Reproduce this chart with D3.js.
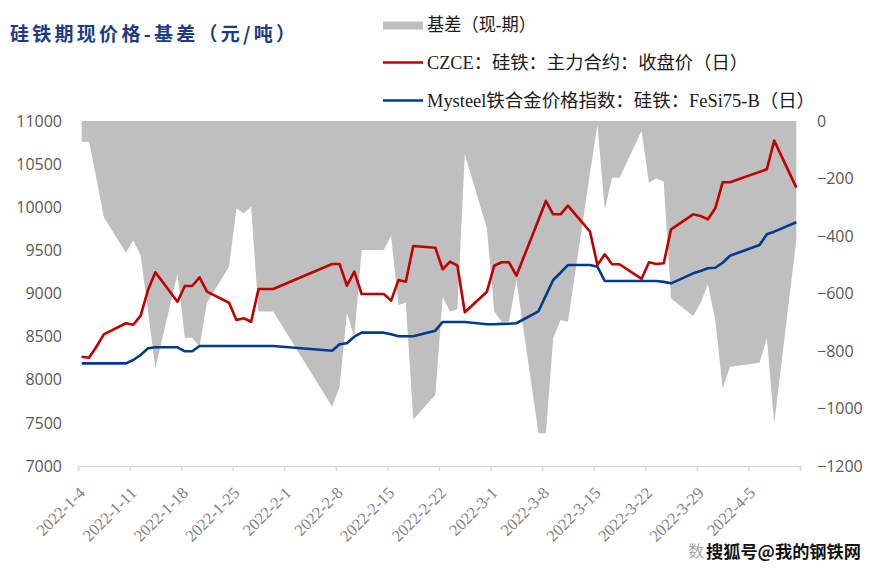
<!DOCTYPE html>
<html>
<head>
<meta charset="utf-8">
<script src="https://cdn.jsdelivr.net/npm/d3@7"></script>
<style>
html,body{margin:0;padding:0;background:#fff;}
svg{display:block;}
</style>
</head>
<body>
<svg id="chart" width="881" height="571"></svg>
<script>
const dates = [
 "2022-01-04","2022-01-05","2022-01-06","2022-01-07","2022-01-10","2022-01-11","2022-01-12","2022-01-13","2022-01-14",
 "2022-01-17","2022-01-18","2022-01-19","2022-01-20","2022-01-21","2022-01-24","2022-01-25","2022-01-26","2022-01-27",
 "2022-01-28","2022-01-29","2022-01-30",
 "2022-02-07","2022-02-08","2022-02-09","2022-02-10","2022-02-11","2022-02-14","2022-02-15","2022-02-16","2022-02-17",
 "2022-02-18","2022-02-21","2022-02-22","2022-02-23","2022-02-24","2022-02-25","2022-02-28",
 "2022-03-01","2022-03-02","2022-03-03","2022-03-04","2022-03-07","2022-03-08","2022-03-09","2022-03-10","2022-03-11",
 "2022-03-14","2022-03-15","2022-03-16","2022-03-17","2022-03-18","2022-03-21","2022-03-22","2022-03-23","2022-03-24",
 "2022-03-25","2022-03-28","2022-03-29","2022-03-30","2022-03-31",
 "2022-04-01","2022-04-02","2022-04-06","2022-04-07","2022-04-08","2022-04-11"
];
const czce = [
 8267,8256,8383,8527,8655,8638,8743,9040,9246,
 8905,9087,9087,9188,9021,8893,8693,8713,8673,
 9052,9052,9052,
 9342,9342,9091,9253,8994,8994,8917,9157,9137,
 9551,9531,9281,9369,9322,8782,9021,
 9322,9362,9362,9206,9852,10073,9918,9918,10018,
 9717,9330,9455,9339,9339,9170,9362,9342,9350,
 9744,9918,9899,9860,9988,
 10289,10289,10410,10440,10772,10227
];
const mysteel = [
 8190,8190,8190,8190,8190,8229,8287,8365,8376,
 8376,8330,8330,8391,8391,8391,8391,8391,8391,
 8391,8391,8391,
 8337,8411,8423,8499,8546,8546,8527,8504,8504,
 8504,8569,8670,8670,8670,8670,8643,
 8643,8648,8650,8655,8794,8975,9157,9241,9330,
 9330,9311,9145,9145,9145,9145,9145,9145,9135,
 9118,9234,9261,9292,9299,
 9357,9438,9562,9686,9717,9826
];
const basis = [
 -72,-72,-200,-335,-458,-416,-468,-660,-860,
 -532,-754,-754,-785,-632,-507,-304,-321,-298,
 -663,-663,-663,
 -994,-924,-669,-750,-449,-449,-400,-640,-632,
 -1038,-953,-613,-663,-655,-116,-373,
 -663,-698,-698,-553,-1086,-1086,-756,-692,-698,
 -180,-14,-307,-197,-197,-34,-215,-199,-211,
 -617,-678,-634,-568,-692,
 -930,-855,-841,-756,-1051,-414
];
const xTickLabels = ["2022-1-4","2022-1-11","2022-1-18","2022-1-25","2022-2-1","2022-2-8","2022-2-15",
 "2022-2-22","2022-3-1","2022-3-8","2022-3-15","2022-3-22","2022-3-29","2022-4-5",""];
const leftTicks = [7000,7500,8000,8500,9000,9500,10000,10500,11000];
const rightTicks = [-1200,-1000,-800,-600,-400,-200,0];
const title = "硅铁期现价格-基差（元/吨）";
const legendLabels = ["基差（现-期）","CZCE：硅铁：主力合约：收盘价（日）","Mysteel铁合金价格指数：硅铁：FeSi75-B（日）"];

const parse = d3.utcParse("%Y-%m-%d");
const DAY = 86400000;
const data = dates.map((d,i)=>({t: new Date(parse(d).getTime()+DAY/2), c: czce[i], m: mysteel[i], b: basis[i]}));

const L=78, R=800, T=121, B=466;
const x = d3.scaleUtc().domain([parse("2022-01-04"), parse("2022-04-12")]).range([L,R]);
const yL = d3.scaleLinear().domain([7000,11000]).range([B,T]);
const yR = d3.scaleLinear().domain([-1200,0]).range([B,T]);

const svg = d3.select("#chart");
const serif = "'Liberation Serif','Noto Sans CJK SC',serif";

// area
svg.append("path").datum(data)
  .attr("fill","#BFBFBF")
  .attr("d", d3.area().x(d=>x(d.t)).y0(yR(0)).y1(d=>yR(d.b)));

// x axis
const tickDates = d3.range(0,15).map(i=>new Date(parse("2022-01-04").getTime()+i*7*DAY));
const xAxis = d3.axisBottom(x).tickValues(tickDates).tickSize(5).tickFormat("");
const gx = svg.append("g").attr("transform",`translate(0,${B})`).call(xAxis);
gx.select(".domain").attr("stroke","#D9D9D9").attr("stroke-width",1.5);
gx.selectAll(".tick line").attr("stroke","#D9D9D9").attr("stroke-width",1.5);
svg.append("g").selectAll("text").data(tickDates).join("text")
  .attr("transform",(d)=>`translate(${x(d)+8},${B+28}) rotate(-45)`)
  .attr("text-anchor","end")
  .attr("font-family",serif).attr("font-size",16.5).attr("fill","#7F7F7F")
  .text((d,i)=>xTickLabels[i]);

// left axis
const yAxisL = d3.axisLeft(yL).tickValues(leftTicks).tickSize(0).tickPadding(0).tickFormat(d3.format("d"));
const gl = svg.append("g").attr("transform",`translate(${L-16},0)`).call(yAxisL);
gl.select(".domain").remove();
gl.selectAll("text").attr("font-family","'Open Sans',sans-serif").attr("font-size",16).attr("fill","#595959");

// right axis
const yAxisR = d3.axisRight(yR).tickValues(rightTicks).tickSize(0).tickPadding(0).tickFormat(d3.format("d"));
const gr = svg.append("g").attr("transform",`translate(${R+17},0)`).call(yAxisR);
gr.select(".domain").remove();
gr.selectAll("text").attr("font-family","'Open Sans',sans-serif").attr("font-size",16).attr("fill","#595959");

// lines
svg.append("path").datum(data).attr("fill","none").attr("stroke","#C00000").attr("stroke-width",2.6)
  .attr("stroke-linejoin","round").attr("d", d3.line().x(d=>x(d.t)).y(d=>yL(d.c)));
svg.append("path").datum(data).attr("fill","none").attr("stroke","#003B8E").attr("stroke-width",2.6)
  .attr("stroke-linejoin","round").attr("d", d3.line().x(d=>x(d.t)).y(d=>yL(d.m)));

// title
svg.append("text").attr("x",10).attr("y",41)
  .attr("font-family","'Noto Sans CJK SC',sans-serif").attr("font-weight","bold")
  .attr("font-size",19).attr("fill","#1D3C84")
  .attr("textLength",285).attr("lengthAdjust","spacing")
  .text(title);

// legend
const lg = svg.append("g");
lg.append("rect").attr("x",383).attr("y",21.5).attr("width",40).attr("height",8).attr("fill","#BFBFBF");
lg.append("line").attr("x1",383).attr("x2",423).attr("y1",62.5).attr("y2",62.5).attr("stroke","#C00000").attr("stroke-width",2.6);
lg.append("line").attr("x1",383).attr("x2",423).attr("y1",100.5).attr("y2",100.5).attr("stroke","#003B8E").attr("stroke-width",2.6);
const lgY = [31,69,107];
const lgW = [109,321,388];
legendLabels.forEach((s,i)=>{
  lg.append("text").attr("x",427).attr("y",lgY[i])
    .attr("font-family",serif).attr("font-size",18).attr("fill","#1a1a1a")
    .attr("textLength",lgW[i]).attr("lengthAdjust","spacingAndGlyphs")
    .text(s);
});

// watermark
svg.append("text").attr("x",688).attr("y",557).attr("font-family","'Noto Sans CJK SC',sans-serif")
  .attr("font-size",16).attr("fill","#A6A6A6").text("数");
svg.append("text").attr("x",706).attr("y",558).attr("font-family","'Noto Sans CJK SC',sans-serif")
  .attr("font-size",17).attr("font-weight","bold").attr("fill","#111")
  .attr("stroke","#fff").attr("stroke-width",3).attr("paint-order","stroke")
  .attr("textLength",155).attr("lengthAdjust","spacingAndGlyphs")
  .text("搜狐号@我的钢铁网");
</script>
</body>
</html>
